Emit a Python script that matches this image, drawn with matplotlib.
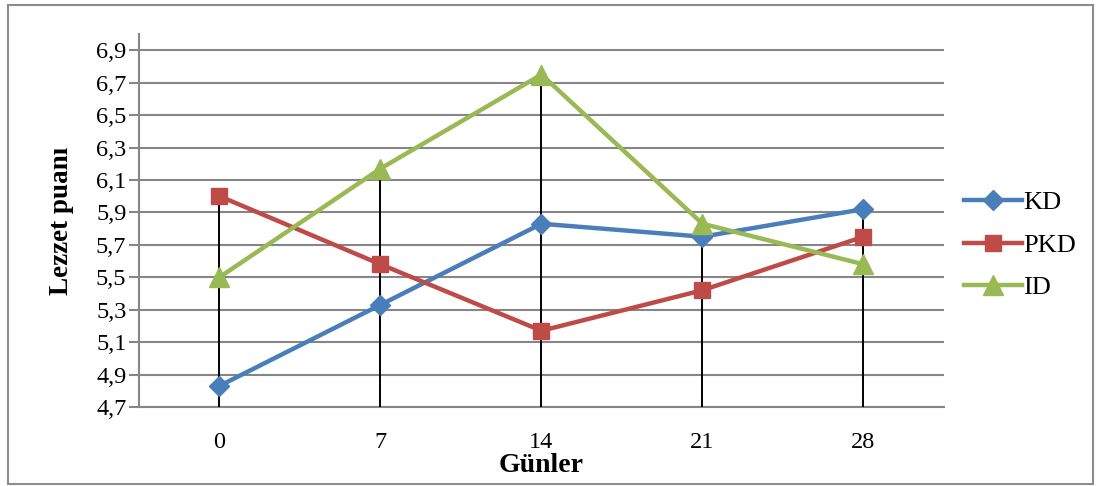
import numpy as np
import matplotlib.pyplot as plt
from matplotlib.patches import Rectangle

days = ["0", "7", "14", "21", "28"]
kd = [4.83, 5.33, 5.83, 5.75, 5.92]
pkd = [6.00, 5.58, 5.17, 5.42, 5.75]
id_ = [5.50, 6.17, 6.75, 5.83, 5.58]
yticks = [4.7, 4.9, 5.1, 5.3, 5.5, 5.7, 5.9, 6.1, 6.3, 6.5, 6.7, 6.9]

plt.rcParams['font.family'] = ['Liberation Serif', 'DejaVu Serif']

fig = plt.figure(figsize=(10.96, 4.86), dpi=100)
fig.patches.append(Rectangle((0.007, 0.004), 0.99, 0.985, transform=fig.transFigure,
                             fill=False, edgecolor='#8c8c8c', linewidth=1.5))
ax = fig.add_axes([0.1268, 0.1626, 0.7345, 0.7674])

x = np.arange(len(days))

# drop lines from the highest point of each category
tops = np.max([kd, pkd, id_], axis=0)
ax.vlines(x, 4.7, tops, color='black', linewidth=1.4, zorder=3)

ax.plot(x, kd, color='#4A7EBB', linewidth=3.2, marker='D', markersize=10, label='KD', zorder=4)
ax.plot(x, pkd, color='#BE4B48', linewidth=3.2, marker='s', markersize=12, label='PKD', zorder=4)
ax.plot(x, id_, color='#98B954', linewidth=3.2, marker='^', markersize=14, label='ID', zorder=4)

ax.set_xlim(-0.5, 4.5)
ax.set_ylim(4.7, 7.0)
ax.set_xticks(x)
ax.set_xticklabels(days, fontsize=17.5)
ax.set_yticks(yticks)
ax.set_yticklabels([f"{v:.1f}".replace('.', ',') for v in yticks], fontsize=17.5)
ax.tick_params(axis='x', length=0, pad=18)
ax.tick_params(axis='y', length=7, width=1.5, color='#868686', pad=2)
ax.yaxis.grid(True, color='#868686', linewidth=1.5)
ax.set_axisbelow(True)
for s in ['top', 'right']:
    ax.spines[s].set_visible(False)
for s in ['left', 'bottom']:
    ax.spines[s].set_color('#868686')
    ax.spines[s].set_linewidth(1.5)

ax.set_ylabel('Lezzet puanı', fontsize=19.5, fontweight='bold', labelpad=16)
ax.set_xlabel('Günler', fontsize=20, fontweight='bold', labelpad=0)

ax.legend(loc='center left', bbox_to_anchor=(1.012, 0.434), frameon=False, fontsize=19,
          handlelength=2.2, handletextpad=0.05, labelspacing=0.72, borderaxespad=0)

fig.savefig('out.png', dpi=100)
